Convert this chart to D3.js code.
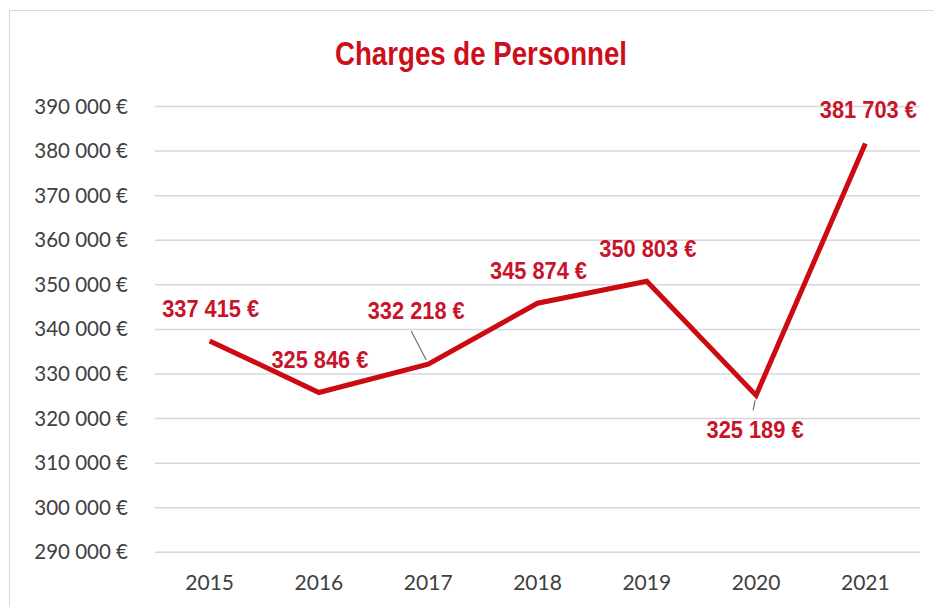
<!DOCTYPE html>
<html lang="fr">
    <head>
        <meta charset="utf-8">
        <title>Charges de Personnel</title>
        <script src="https://d3js.org/d3.v7.min.js"></script>
        <style>
            body { margin: 0; background: #fff; }
            .grid line { stroke: #d6d6de; stroke-width: 1.5px; }
            .axis text { font-family: Lato, "Open Sans", sans-serif; fill: #404040; }
            .line { fill: none; stroke: #cc0a12; stroke-width: 5px; stroke-linejoin: miter; }
            .lbl { font-family: "Liberation Sans", Arial, sans-serif;
                   font-weight: bold; fill: #c8142a; }
        </style>
    </head>
    <body>
    <script>
    // data
    var years = ["2015", "2016", "2017", "2018", "2019", "2020", "2021"];
    var charges = [337415, 325846, 332218, 345874, 350803, 325189, 381703];
    var yTicks = [290000, 300000, 310000, 320000, 330000, 340000, 350000, 360000, 370000, 380000, 390000];

    var W = 934, H = 607;
    var plot = {left: 155, right: 920, top: 106.5, bottom: 552.3};

    var svg = d3.select("body").append("svg")
        .attr("width", W)
        .attr("height", H);

    // outer frame of the chart area
    svg.append("rect")
        .attr("x", 9.5).attr("y", 10.5)
        .attr("width", 960).attr("height", 640)
        .attr("fill", "none")
        .attr("stroke", "#d9d9d9");

    // scales
    var x = d3.scaleBand().domain(years).range([plot.left, plot.right]);
    var y = d3.scaleLinear().domain([290000, 390000]).range([plot.bottom, plot.top]);
    var cx = function(yr) { return x(yr) + x.bandwidth() / 2; };

    // euro format with spaces as thousands separator
    var fr = d3.formatLocale({decimal: ",", thousands: "\u00a0", grouping: [3], currency: ["", " €"]});
    var fmt = fr.format("$,.0f");

    // horizontal gridlines
    svg.append("g").attr("class", "grid")
        .selectAll("line").data(yTicks).enter().append("line")
        .attr("x1", plot.left).attr("x2", plot.right)
        .attr("y1", function(d) { return y(d); })
        .attr("y2", function(d) { return y(d); });

    // y axis labels
    svg.append("g").attr("class", "axis")
        .attr("transform", "translate(" + (plot.left - 27) + ",0)")
        .call(d3.axisLeft(y).tickValues(yTicks).tickSize(0).tickPadding(0).tickFormat(fmt))
        .call(function(g) { g.select(".domain").remove(); })
        .selectAll("text").style("font-size", "20.5px");

    // x axis labels
    svg.append("g").attr("class", "axis")
        .attr("transform", "translate(0," + (plot.bottom + 23) + ")")
        .call(d3.axisBottom(x).tickSize(0).tickPadding(0))
        .call(function(g) { g.select(".domain").remove(); })
        .selectAll("text").style("font-size", "21px");

    // the line
    var pts = years.map(function(yr, i) { return {year: yr, v: charges[i]}; });
    var valueline = d3.line()
        .x(function(d) { return cx(d.year); })
        .y(function(d) { return y(d.v); });

    svg.append("path")
        .datum(pts)
        .attr("class", "line")
        .attr("d", valueline);

    // data labels: offset from point (most sit above, two are moved with a leader line)
    var labelOff = {
        "2017": {dx: -12, dy: -45, leader: [[-2, -4], [-17, -33]]},
        "2020": {dx: -1, dy: 43, leader: [[-1, 5], [-3, 15]]},
        "2021": {dx: 3, dy: -25}
    };

    pts.forEach(function(d) {
        var o = labelOff[d.year] || {dx: 1, dy: -24};
        var px = cx(d.year), py = y(d.v);
        if (o.leader) {
            svg.append("line")
                .attr("x1", px + o.leader[0][0]).attr("y1", py + o.leader[0][1])
                .attr("x2", px + o.leader[1][0]).attr("y2", py + o.leader[1][1])
                .attr("stroke", "#707070").attr("stroke-width", 1.2);
        }
        svg.append("text")
            .attr("class", "lbl")
            .attr("x", px + o.dx)
            .attr("y", py + o.dy)
            .attr("text-anchor", "middle")
            .attr("textLength", 97)
            .attr("lengthAdjust", "spacingAndGlyphs")
            .style("font-size", "23px")
            .text(fmt(d.v));
    });

    // title (condensed to the width of the original)
    svg.append("text")
        .attr("x", 481)
        .attr("y", 65)
        .attr("text-anchor", "middle")
        .attr("textLength", 292)
        .attr("lengthAdjust", "spacingAndGlyphs")
        .style("font-family", "'Liberation Sans', sans-serif")
        .style("font-weight", "bold")
        .style("font-size", "34px")
        .style("fill", "#cc0f1a")
        .text("Charges de Personnel");
    </script>
    </body>
</html>
